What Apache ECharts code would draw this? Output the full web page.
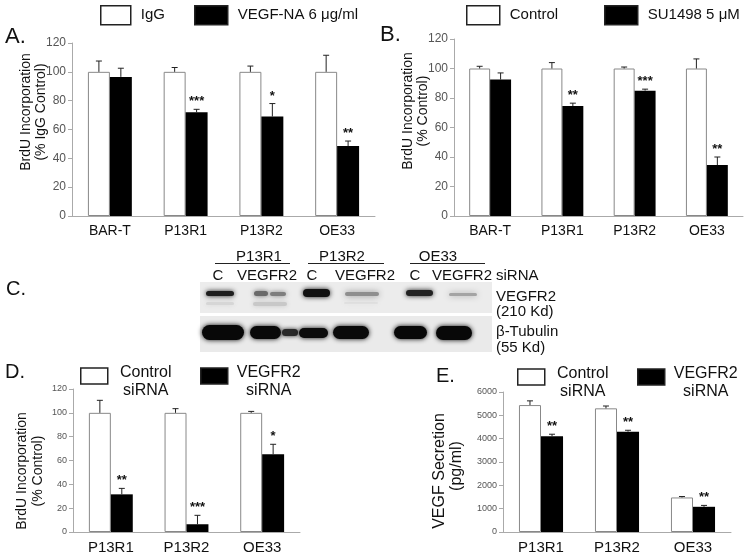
<!DOCTYPE html>
<html>
<head>
<meta charset="utf-8">
<script src="https://cdn.jsdelivr.net/npm/echarts@6/dist/echarts.min.js"></script>
<style>
html,body{margin:0;padding:0;background:#fff;}
#c{width:751px;height:557px;}
</style>
</head>
<body>
<div id="c"></div>
<script>
// ---------- data ----------
const categoriesAB = ['BAR-T', 'P13R1', 'P13R2', 'OE33'];
const categoriesDE = ['P13R1', 'P13R2', 'OE33'];

const aControl    = [100, 100, 100, 100];
const aControlErr = [107.5, 103, 104, 111.5];
const aTreat      = [96.5, 72, 69, 48.5];
const aTreatErr   = [102.5, 74, 78, 52];
const aStars      = ['', '***', '*', '**'];

const bControl    = [100, 100, 100, 100];
const bControlErr = [101.5, 104, 101, 106.5];
const bTreat      = [92.5, 74.5, 85, 34.5];
const bTreatErr   = [97, 76.5, 86, 40];
const bStars      = ['', '**', '***', '**'];

const dControl    = [100, 100, 100];
const dControlErr = [110.5, 103.5, 101.2];
const dTreat      = [31.6, 6.5, 65.2];
const dTreatErr   = [36.6, 14, 73.6];
const dStars      = ['**', '***', '*'];

const eControl    = [5440, 5300, 1480];
const eControlErr = [5620, 5400, 1520];
const eTreat      = [4100, 4300, 1080];
const eTreatErr   = [4190, 4360, 1140];
const eStars      = ['**', '**', '**'];

// ---------- helpers ----------
const FONT = '"Liberation Sans", Arial, sans-serif';
const GAP = 0.42;

function xAxis(gi, cats, fs) {
  return {
    type: 'category', gridIndex: gi, data: cats,
    axisLine: {lineStyle: {color: '#aaa', width: 1}},
    axisTick: {show: false},
    axisLabel: {color: '#111', fontSize: fs, fontFamily: FONT, margin: 8}
  };
}
function yAxis(gi, max, interval, fs) {
  return {
    type: 'value', gridIndex: gi, min: 0, max: max, interval: interval,
    axisLine: {show: true, lineStyle: {color: '#aaa', width: 1}},
    axisTick: {show: true, length: 4, lineStyle: {color: '#aaa'}},
    splitLine: {show: false},
    axisLabel: {color: '#555', fontSize: fs, fontFamily: FONT, margin: 6,
      formatter: function (v) { return String(v); }}
  };
}
function barPair(gi, nameC, nameT, ctrl, trt) {
  return [
    {type: 'bar', name: nameC, xAxisIndex: gi, yAxisIndex: gi, data: ctrl,
     barGap: '0%', barCategoryGap: (GAP * 100) + '%',
     itemStyle: {color: '#fff', borderColor: '#888', borderWidth: 1}, silent: true, animation: false},
    {type: 'bar', name: nameT, xAxisIndex: gi, yAxisIndex: gi, data: trt,
     barGap: '0%', barCategoryGap: (GAP * 100) + '%',
     itemStyle: {color: '#000'}, silent: true, animation: false}
  ];
}
function errSeries(gi, ctrl, ctrlErr, trt, trtErr, stars, starSize) {
  const data = [];
  ctrl.forEach((v, i) => data.push([i, v, ctrlErr[i], -1, -1]));
  trt.forEach((v, i) => data.push([i, v, trtErr[i], 1, i]));
  return {
    type: 'custom', xAxisIndex: gi, yAxisIndex: gi, silent: true, animation: false,
    data: data, encode: {x: 0, y: 2}, z: 5,
    renderItem: function (params, api) {
      const i = api.value(0), v = api.value(1), e = api.value(2), side = api.value(3), si = api.value(4);
      const p0 = api.coord([i, v]);
      const p1 = api.coord([i, e]);
      const bw = api.size([1, 0])[0];
      const w = bw * (1 - GAP) / 2;
      const x = p0[0] + side * w / 2;
      const children = [
        {type: 'line', shape: {x1: x, y1: p0[1], x2: x, y2: p1[1]}, style: {stroke: '#222', lineWidth: 1}},
        {type: 'line', shape: {x1: x - 3, y1: p1[1], x2: x + 3, y2: p1[1]}, style: {stroke: '#222', lineWidth: 1}}
      ];
      if (si >= 0 && stars[si]) {
        children.push({type: 'text', x: x, y: p1[1] - 1,
          style: {text: stars[si], fill: '#111', font: 'bold ' + starSize + 'px ' + FONT, align: 'center', verticalAlign: 'bottom'}});
      }
      return {type: 'group', children: children};
    }
  };
}
function legendItem(name, left, top, w, h, textOpt) {
  return Object.assign({
    data: [name], left: left, top: top, itemWidth: w, itemHeight: h, icon: 'rect',
    selectedMode: false, padding: 0,
    itemStyle: {borderColor: '#222', borderWidth: 1.5},
    textStyle: {fontSize: 15, fontFamily: FONT, color: '#111', padding: [0, 0, 0, 5]}
  }, textOpt || {});
}
function twoLine(name, a, b, left, top, boxW) {
  return legendItem(name, left, top, 27, 16, {
    formatter: function () { return '{a|' + a + '}\n{a|' + b + '}'; },
    textStyle: {fontSize: 16, fontFamily: FONT, color: '#111', padding: [12, 0, 0, 5],
      rich: {a: {width: boxW, align: 'center', fontSize: 16, fontFamily: FONT, color: '#111', lineHeight: 18}}}
  });
}
function txt(x, y, s, size, align) {
  return {type: 'text', x: x, y: y, silent: true,
    style: {text: s, font: size + 'px ' + FONT, fill: '#111', align: align || 'left', verticalAlign: 'middle'}};
}
function vtxt(x, y, s, size) {
  return {type: 'text', x: x, y: y, rotation: Math.PI / 2, silent: true,
    style: {text: s, font: size + 'px ' + FONT, fill: '#111', align: 'center', verticalAlign: 'middle'}};
}
function band(x, y, w, h, color, blur) {
  return {type: 'rect', silent: true, shape: {x: x, y: y, width: w, height: h, r: h / 2},
    style: {fill: color, shadowBlur: blur, shadowColor: color}};
}

// ---------- blot (panel C, photographic image approximated) ----------
const blot = [
  {type: 'rect', silent: true, shape: {x: 200, y: 282, width: 292, height: 31}, style: {fill: '#ececec'}},
  {type: 'rect', silent: true, shape: {x: 200, y: 316, width: 292, height: 36}, style: {fill: '#eaeaea'}},
  // VEGFR2 lower faint bands
  band(206, 302, 28, 3, '#d6d6d6', 5),
  band(253, 302, 34, 4, '#c8c8c8', 5),
  band(344, 302, 34, 2, '#e0e0e0', 5),
  // VEGFR2 main bands
  band(206, 291, 28, 5, '#1e1e1e', 5),
  band(254, 291, 14, 5, '#6a6a6a', 5),
  band(270, 292, 16, 4, '#7e7e7e', 5),
  band(303, 289, 27, 8, '#111', 5),
  band(345, 292, 34, 4, '#8e8e8e', 6),
  band(406, 290, 27, 6, '#222', 5),
  band(449, 293, 28, 3, '#a4a4a4', 6),
  // tubulin bands
  band(202, 325, 42, 15, '#080808', 5),
  band(250, 326, 31, 13, '#0a0a0a', 5),
  band(282, 329, 16, 7, '#2a2a2a', 4),
  band(299, 328, 29, 10, '#0d0d0d', 5),
  band(333, 326, 36, 13, '#0a0a0a', 5),
  band(394, 326, 33, 13, '#080808', 5),
  band(436, 326, 36, 14, '#080808', 5),
  // labels
  txt(259, 257, 'P13R1', 15, 'center'),
  txt(342, 257, 'P13R2', 15, 'center'),
  txt(438, 257, 'OE33', 15, 'center'),
  {type: 'line', silent: true, shape: {x1: 215, y1: 263.5, x2: 290, y2: 263.5}, style: {stroke: '#222', lineWidth: 1}},
  {type: 'line', silent: true, shape: {x1: 308, y1: 263.5, x2: 384, y2: 263.5}, style: {stroke: '#222', lineWidth: 1}},
  {type: 'line', silent: true, shape: {x1: 410, y1: 263.5, x2: 485, y2: 263.5}, style: {stroke: '#222', lineWidth: 1}},
  txt(218, 276, 'C', 15, 'center'),
  txt(267, 276, 'VEGFR2', 15, 'center'),
  txt(312, 276, 'C', 15, 'center'),
  txt(365, 276, 'VEGFR2', 15, 'center'),
  txt(415, 276, 'C', 15, 'center'),
  txt(462, 276, 'VEGFR2', 15, 'center'),
  txt(496, 276, 'siRNA', 15),
  txt(496, 297, 'VEGFR2', 15),
  txt(496, 312, '(210 Kd)', 15),
  txt(496, 332, 'β-Tubulin', 15),
  txt(496, 348, '(55 Kd)', 15)
];

// ---------- option ----------
const option = {
  backgroundColor: '#fff',
  animation: false,
  grid: [
    {left: 72, top: 43, width: 303, height: 173},
    {left: 454, top: 39, width: 289, height: 177},
    {left: 73, top: 389, width: 227, height: 143},
    {left: 503, top: 392, width: 228, height: 140}
  ],
  xAxis: [xAxis(0, categoriesAB, 14), xAxis(1, categoriesAB, 14), xAxis(2, categoriesDE, 15), xAxis(3, categoriesDE, 15)],
  yAxis: [yAxis(0, 120, 20, 12), yAxis(1, 120, 20, 12), yAxis(2, 120, 20, 9), yAxis(3, 6000, 1000, 9)],
  legend: [
    legendItem('IgG', 100, 5, 30, 19),
    legendItem('VEGF-NA 6 μg/ml', 194, 5, 33, 19),
    legendItem('Control', 466, 5, 33, 19),
    legendItem('SU1498 5 μM', 604, 5, 33, 19),
    twoLine('Control siRNA ', 'Control', 'siRNA', 80, 365, 56),
    twoLine('VEGFR2 siRNA ', 'VEGFR2', 'siRNA', 200, 365, 62),
    twoLine('Control siRNA', 'Control', 'siRNA', 517, 366, 56),
    twoLine('VEGFR2 siRNA', 'VEGFR2', 'siRNA', 637, 366, 62)
  ],
  series: [].concat(
    barPair(0, 'IgG', 'VEGF-NA 6 μg/ml', aControl, aTreat),
    [errSeries(0, aControl, aControlErr, aTreat, aTreatErr, aStars, 13)],
    barPair(1, 'Control', 'SU1498 5 μM', bControl, bTreat),
    [errSeries(1, bControl, bControlErr, bTreat, bTreatErr, bStars, 13)],
    barPair(2, 'Control siRNA ', 'VEGFR2 siRNA ', dControl, dTreat),
    [errSeries(2, dControl, dControlErr, dTreat, dTreatErr, dStars, 13)],
    barPair(3, 'Control siRNA', 'VEGFR2 siRNA', eControl, eTreat),
    [errSeries(3, eControl, eControlErr, eTreat, eTreatErr, eStars, 13)]
  ),
  graphic: [
    txt(5, 37, 'A.', 22),
    txt(380, 35, 'B.', 22),
    txt(6, 289, 'C.', 20),
    txt(5, 372, 'D.', 20),
    txt(436, 376, 'E.', 20),
    vtxt(26, 112, 'BrdU Incorporation', 14),
    vtxt(41, 112, '(% IgG Control)', 14),
    vtxt(408, 111, 'BrdU Incorporation', 14),
    vtxt(423, 111, '(% Control)', 14),
    vtxt(22, 471, 'BrdU Incorporation', 14),
    vtxt(38, 471, '(% Control)', 14),
    vtxt(440, 471, 'VEGF Secretion', 16),
    vtxt(457, 466, '(pg/ml)', 16)
  ].concat(blot)
};

const chart = echarts.init(document.getElementById('c'), null, {renderer: 'canvas'});
chart.setOption(option);
</script>
</body>
</html>
